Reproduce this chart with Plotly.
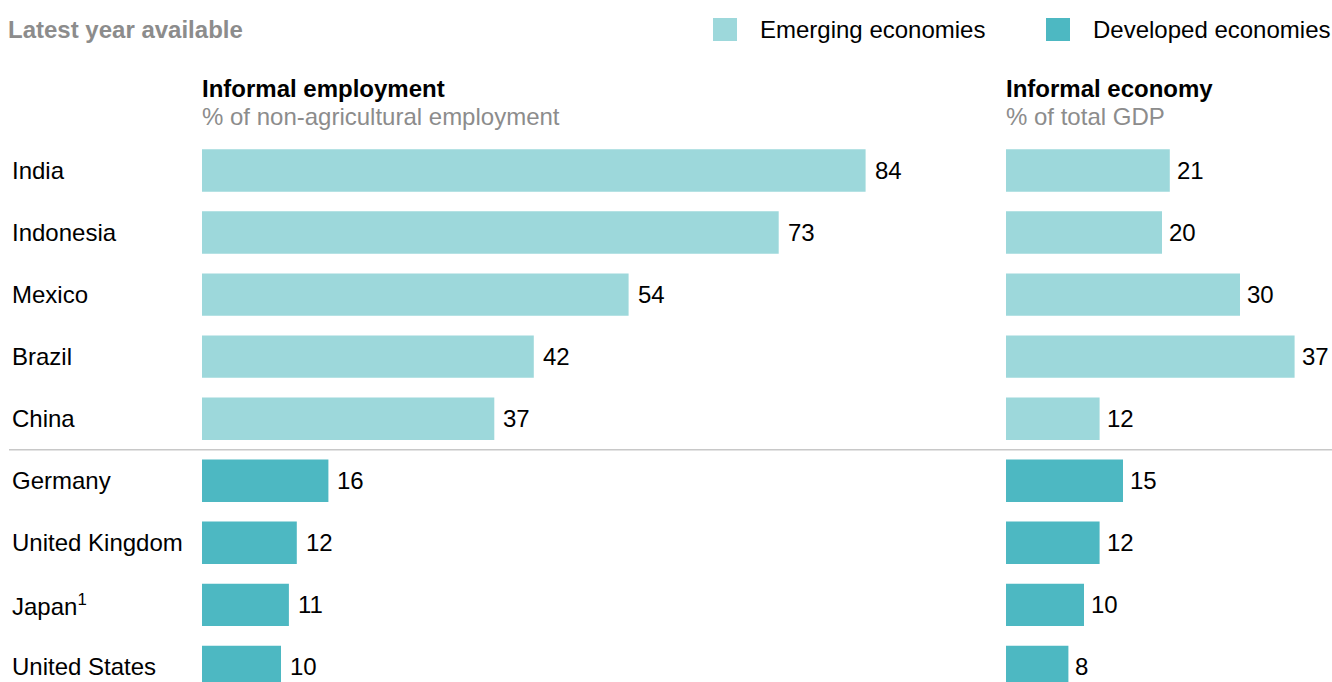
import plotly.graph_objects as go

# Data
countries = ["India", "Indonesia", "Mexico", "Brazil", "China",
             "Germany", "United Kingdom", "Japan<sup>1</sup>", "United States"]
groups = ["Emerging", "Emerging", "Emerging", "Emerging", "Emerging",
          "Developed", "Developed", "Developed", "Developed"]
informal_employment = [84, 73, 54, 42, 37, 16, 12, 11, 10]   # % of non-agricultural employment
informal_economy = [21, 20, 30, 37, 12, 15, 12, 10, 8]        # % of total GDP

W, H = 1332, 682
FONT = "Liberation Sans, Arial, sans-serif"
FS = 24
LIGHT = "#9dd8db"
DARK = "#4db8c2"
GRAY = "#8c8c8c"
colors = [LIGHT if g == "Emerging" else DARK for g in groups]
rows = list(range(len(countries)))


def px(x):
    return x / W


def py(y):
    return 1 - y / H


fig = go.Figure()
fig.add_trace(go.Bar(x=informal_employment, y=rows, orientation="h",
                     marker=dict(color=colors, line=dict(width=0)),
                     width=0.683, xaxis="x", yaxis="y", hoverinfo="x+y",
                     showlegend=False))
fig.add_trace(go.Bar(x=informal_economy, y=rows, orientation="h",
                     marker=dict(color=colors, line=dict(width=0)),
                     width=0.683, xaxis="x2", yaxis="y", hoverinfo="x+y",
                     showlegend=False))

annotations = []
# Country labels
for r, name in zip(rows, countries):
    annotations.append(dict(x=px(10), xref="paper", y=r, yref="y", text=name,
                            xanchor="left", yanchor="middle", showarrow=False,
                            font=dict(family=FONT, size=FS, color="#000000")))
# Value labels
for r, v in zip(rows, informal_employment):
    annotations.append(dict(x=v, xref="x", y=r, yref="y", text=str(v),
                            xanchor="left", yanchor="middle", showarrow=False,
                            xshift=7, font=dict(family=FONT, size=FS, color="#000000")))
for r, v in zip(rows, informal_economy):
    annotations.append(dict(x=v, xref="x2", y=r, yref="y", text=str(v),
                            xanchor="left", yanchor="middle", showarrow=False,
                            xshift=5, font=dict(family=FONT, size=FS, color="#000000")))

# Headers
annotations += [
    dict(x=px(6), y=py(30), xref="paper", yref="paper", text="<b>Latest year available</b>",
         xanchor="left", yanchor="middle", showarrow=False,
         font=dict(family=FONT, size=FS, color=GRAY)),
    dict(x=px(200), y=py(88), xref="paper", yref="paper", text="<b>Informal employment</b>",
         xanchor="left", yanchor="middle", showarrow=False,
         font=dict(family=FONT, size=FS, color="#000000")),
    dict(x=px(200), y=py(117), xref="paper", yref="paper", text="% of non-agricultural employment",
         xanchor="left", yanchor="middle", showarrow=False,
         font=dict(family=FONT, size=FS, color=GRAY)),
    dict(x=px(1004), y=py(88), xref="paper", yref="paper", text="<b>Informal economy</b>",
         xanchor="left", yanchor="middle", showarrow=False,
         font=dict(family=FONT, size=FS, color="#000000")),
    dict(x=px(1004), y=py(117), xref="paper", yref="paper", text="% of total GDP",
         xanchor="left", yanchor="middle", showarrow=False,
         font=dict(family=FONT, size=FS, color=GRAY)),
    dict(x=px(758), y=py(30), xref="paper", yref="paper", text="Emerging economies",
         xanchor="left", yanchor="middle", showarrow=False,
         font=dict(family=FONT, size=FS, color="#000000")),
    dict(x=px(1091), y=py(30), xref="paper", yref="paper", text="Developed economies",
         xanchor="left", yanchor="middle", showarrow=False,
         font=dict(family=FONT, size=FS, color="#000000")),
]

shapes = [
    # legend swatches
    dict(type="rect", xref="paper", yref="paper", x0=px(713), x1=px(737),
         y0=py(18), y1=py(41), fillcolor=LIGHT, line=dict(width=0)),
    dict(type="rect", xref="paper", yref="paper", x0=px(1046), x1=px(1070),
         y0=py(18), y1=py(41), fillcolor=DARK, line=dict(width=0)),
    # divider between emerging and developed economies
    dict(type="line", xref="paper", yref="y", x0=px(9), x1=1, y0=4.5, y1=4.5,
         line=dict(color="#c8c8c8", width=1.5)),
]

fig.update_layout(
    width=W, height=H,
    margin=dict(l=0, r=0, t=0, b=0),
    paper_bgcolor="white", plot_bgcolor="white",
    barmode="overlay",
    showlegend=False,
    xaxis=dict(domain=[px(202), px(962)], range=[0, 760 / 7.9], visible=False,
               fixedrange=True),
    xaxis2=dict(domain=[px(1006), 1], range=[0, 326 / 7.8], visible=False,
                anchor="y", fixedrange=True),
    yaxis=dict(range=[(682 - 170.5) / 62.05, -170.5 / 62.05], visible=False,
               fixedrange=True),
    annotations=annotations,
    shapes=shapes,
)

fig.write_html("out.html")
